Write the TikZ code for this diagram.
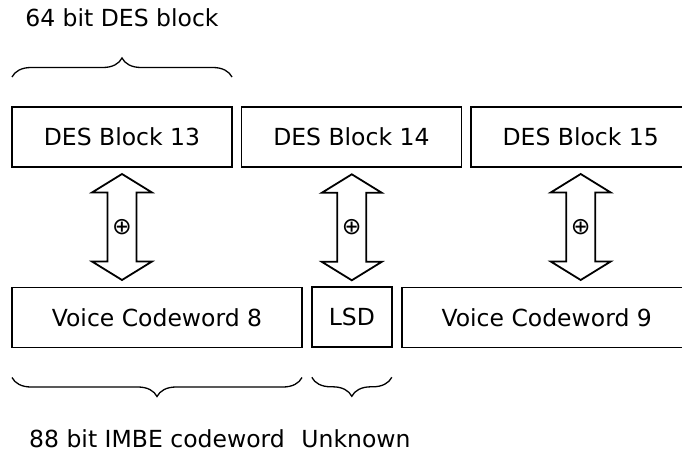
\documentclass[tikz,border=0pt]{standalone}
\usepackage{fontspec}
\setmainfont{DejaVu Sans}
\usetikzlibrary{calc,decorations.pathreplacing}
\tikzset{
  x=1pt,y=1pt,
  txt/.style={font=\fontsize{23.5}{28}\selectfont, inner sep=0pt, outer sep=0pt},
  blockbox/.style={txt, draw=black, line width=1.8pt, minimum height=60pt},
  bracebar/.style={draw=black, line width=1.3pt, decorate, decoration={brace, amplitude=19pt, aspect=0.5}},
  arrowline/.style={draw=black, fill=white, line width=1.8pt, line join=miter},
  xorarrow/.pic={
    \draw[arrowline] (0,53) -- (30,34.5) -- (14.5,34.5) -- (14.5,-34.5) -- (30,-34.5)
      -- (0,-53) -- (-30,-34.5) -- (-14.5,-34.5) -- (-14.5,34.5) -- (-30,34.5) -- cycle;
    \node[txt] (-sym) at (0,0) {⊕};
  }
}
\begin{document}
\begin{tikzpicture}
\useasboundingbox (0,0) rectangle (682,-452);
\begin{scope}
\clip (0,0) rectangle (682,-452);
% top row
\node[blockbox, minimum width=220pt] (b13) at (122,-137) {DES Block 13};
\node[blockbox, minimum width=220pt] (b14) at (351.4,-137) {DES Block 14};
\node[blockbox, minimum width=220pt] (b15) at (580.7,-137) {DES Block 15};
% bottom row
\node[blockbox, minimum width=290pt] (v8) at (157,-317.5) {Voice Codeword 8};
\node[blockbox, minimum width=80pt] (lsd) at (351.8,-317.3) {LSD};
\node[blockbox, minimum width=290pt] (v9) at (546.7,-317.5) {Voice Codeword 9};
% xor arrows
\pic (x1) at ($(b13.south)+(0,-60)$) {xorarrow};
\pic (x2) at ($(lsd.north)+(0,60)$) {xorarrow};
\pic (x3) at ($(b15.south)+(0,-60)$) {xorarrow};
% braces
\coordinate (t1) at ($(b13.north west)+(0,30)$);
\coordinate (t2) at ($(b13.north east)+(0,30)$);
\draw[bracebar] (t1) -- (t2);
\coordinate (u1) at ($(v8.south west)+(0,-30)$);
\coordinate (u2) at ($(v8.south east)+(0,-30)$);
\draw[bracebar] (u2) -- (u1);
\coordinate (w1) at ($(lsd.south west)+(0,-30)$);
\coordinate (w2) at ($(lsd.south east)+(0,-30)$);
\draw[bracebar] (w2) -- (w1);
% labels
\node[txt, anchor=base] (l64) at (122,-27) {64 bit DES block};
\node[txt, anchor=base] (l88) at (157,-447) {88 bit IMBE codeword};
\node[txt, anchor=base] (lunk) at (356,-447) {Unknown};
\end{scope}
\end{tikzpicture}
\end{document}
